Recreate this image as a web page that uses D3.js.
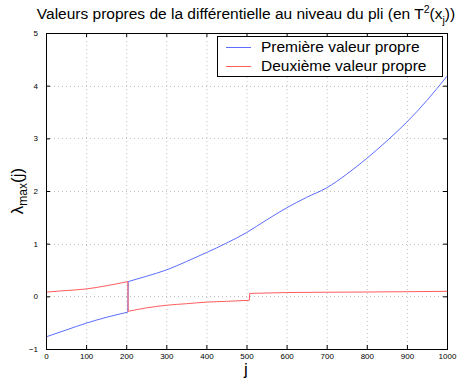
<!DOCTYPE html>
<html><head><meta charset="utf-8">
<script src="https://cdn.jsdelivr.net/npm/d3@7"></script>
<style>body{margin:0;background:#fff}svg{display:block;font-family:"Liberation Sans",Arial,Helvetica,sans-serif}</style>
</head><body>
<svg id="c" width="471" height="382"></svg>
<script>
// Data
const jBlue   = [0, 50, 100, 150, 204, 205, 250, 300, 350, 400, 450, 500, 550, 600, 650, 700, 750, 800, 850, 900, 950, 1000];
const vBlue   = [-0.77, -0.64, -0.51, -0.40, -0.30, 0.28, 0.38, 0.50, 0.66, 0.83, 1.01, 1.21, 1.45, 1.68, 1.88, 2.06, 2.32, 2.62, 2.95, 3.31, 3.72, 4.18];
const jRed    = [0, 50, 100, 150, 204, 205, 250, 300, 350, 400, 450, 507, 508, 600, 700, 800, 900, 1000];
const vRed    = [0.08, 0.11, 0.14, 0.20, 0.28, -0.285, -0.22, -0.17, -0.14, -0.11, -0.095, -0.075, 0.055, 0.072, 0.078, 0.082, 0.088, 0.095];
const xTicks  = [0, 100, 200, 300, 400, 500, 600, 700, 800, 900, 1000];
const yTicks  = [-1, 0, 1, 2, 3, 4, 5];
const seriesNames = ["Première valeur propre", "Deuxième valeur propre"];
const seriesColors = ["#5b6dff", "#ff5c5c"];

const L = 46, R = 447, T = 33, B = 349;
const svg = d3.select("#c");
const x = d3.scaleLinear().domain([0, 1000]).range([L, R]);
const y = d3.scaleLinear().domain([-1, 5]).range([B, T]);

// grid
const g = svg.append("g");
g.selectAll(".gx").data(xTicks.slice(1, -1)).enter().append("line")
  .attr("x1", d => x(d) + 0.5).attr("x2", d => x(d) + 0.5).attr("y1", T).attr("y2", B)
  .attr("stroke", "#bfbfbf").attr("stroke-width", 1).attr("stroke-dasharray", "1,3");
g.selectAll(".gy").data(yTicks.slice(1, -1)).enter().append("line")
  .attr("y1", d => Math.round(y(d)) + 0.5).attr("y2", d => Math.round(y(d)) + 0.5).attr("x1", L).attr("x2", R)
  .attr("stroke", "#bfbfbf").attr("stroke-width", 1).attr("stroke-dasharray", "1,3");

// axes with inward ticks
const fmt = d => d < 0 ? "\u2212" + Math.abs(d) : String(d);
const ax = (gen, tr) => {
  const a = svg.append("g").attr("transform", tr).call(gen);
  a.select(".domain").remove();
  a.selectAll("text").attr("font-size", 8).attr("fill", "#000").attr("font-family", '"Liberation Sans",Arial,sans-serif');
  a.selectAll("line").attr("stroke", "#000");
  return a;
};
ax(d3.axisBottom(x).tickValues(xTicks).tickFormat(fmt).tickSizeInner(-4).tickSizeOuter(0).tickPadding(4), `translate(0,${B})`);
ax(d3.axisTop(x).tickValues(xTicks).tickFormat("").tickSizeInner(-4).tickSizeOuter(0), `translate(0,${T})`);
ax(d3.axisLeft(y).tickValues(yTicks).tickFormat(fmt).tickSizeInner(-4).tickSizeOuter(0).tickPadding(8), `translate(${L},0)`);
ax(d3.axisRight(y).tickValues(yTicks).tickFormat("").tickSizeInner(-4).tickSizeOuter(0), `translate(${R},0)`);

// lines: smooth segments, straight jumps where j advances by 1
const smooth = d3.line().x(d => x(d[0])).y(d => y(d[1])).curve(d3.curveMonotoneX);
const straight = d3.line().x(d => x(d[0])).y(d => y(d[1]));
function drawSeries(js, vs, color) {
  const pts = js.map((j, i) => [j, vs[i]]);
  let seg = [pts[0]];
  const grp = svg.append("g").attr("fill", "none").attr("stroke", color).attr("stroke-width", 1);
  for (let i = 1; i < pts.length; i++) {
    if (pts[i][0] - pts[i - 1][0] <= 1) {
      grp.append("path").attr("d", smooth(seg));
      grp.append("path").attr("d", straight([pts[i - 1], pts[i]]));
      seg = [pts[i]];
    } else seg.push(pts[i]);
  }
  grp.append("path").attr("d", smooth(seg));
}
drawSeries(jBlue, vBlue, seriesColors[0]);
drawSeries(jRed, vRed, seriesColors[1]);

// frame
svg.append("rect").attr("x", L + 0.5).attr("y", T + 0.5).attr("width", R - L).attr("height", B - T)
  .attr("fill", "none").attr("stroke", "#000").attr("stroke-width", 1);

// legend
const lg = svg.append("g");
lg.append("rect").attr("x", 217.5).attr("y", 36.5).attr("width", 225).attr("height", 40)
  .attr("fill", "#fff").attr("stroke", "#000").attr("stroke-width", 1);
seriesNames.forEach((n, i) => {
  const yy = 47 + i * 19;
  lg.append("line").attr("x1", 226).attr("x2", 251).attr("y1", yy + 0.5).attr("y2", yy + 0.5)
    .attr("stroke", seriesColors[i]).attr("stroke-width", 1);
  lg.append("text").attr("x", 261).attr("y", yy + 5).attr("font-size", 15.5).text(n);
});

// title
const tt = svg.append("text").attr("x", 246).attr("y", 19).attr("text-anchor", "middle").attr("font-size", 15.5);
tt.append("tspan").text("Valeurs propres de la différentielle au niveau du pli (en T");
tt.append("tspan").attr("font-size", 10.5).attr("dy", -6).text("2");
tt.append("tspan").attr("dy", 6).text("(x");
tt.append("tspan").attr("font-size", 10.5).attr("dy", 5).text("j");
tt.append("tspan").attr("dy", -5).text("))");

// axis labels
svg.append("text").attr("x", 246).attr("y", 375).attr("text-anchor", "middle").attr("font-size", 17).text("j");
const yl = svg.append("text").attr("transform", "translate(23,191) rotate(-90)").attr("text-anchor", "middle").attr("font-size", 17);
yl.append("tspan").text("\u03bb");
yl.append("tspan").attr("font-size", 12).attr("dy", 4).text("max");
yl.append("tspan").attr("dy", -4).text("(j)");
</script>
</body></html>
